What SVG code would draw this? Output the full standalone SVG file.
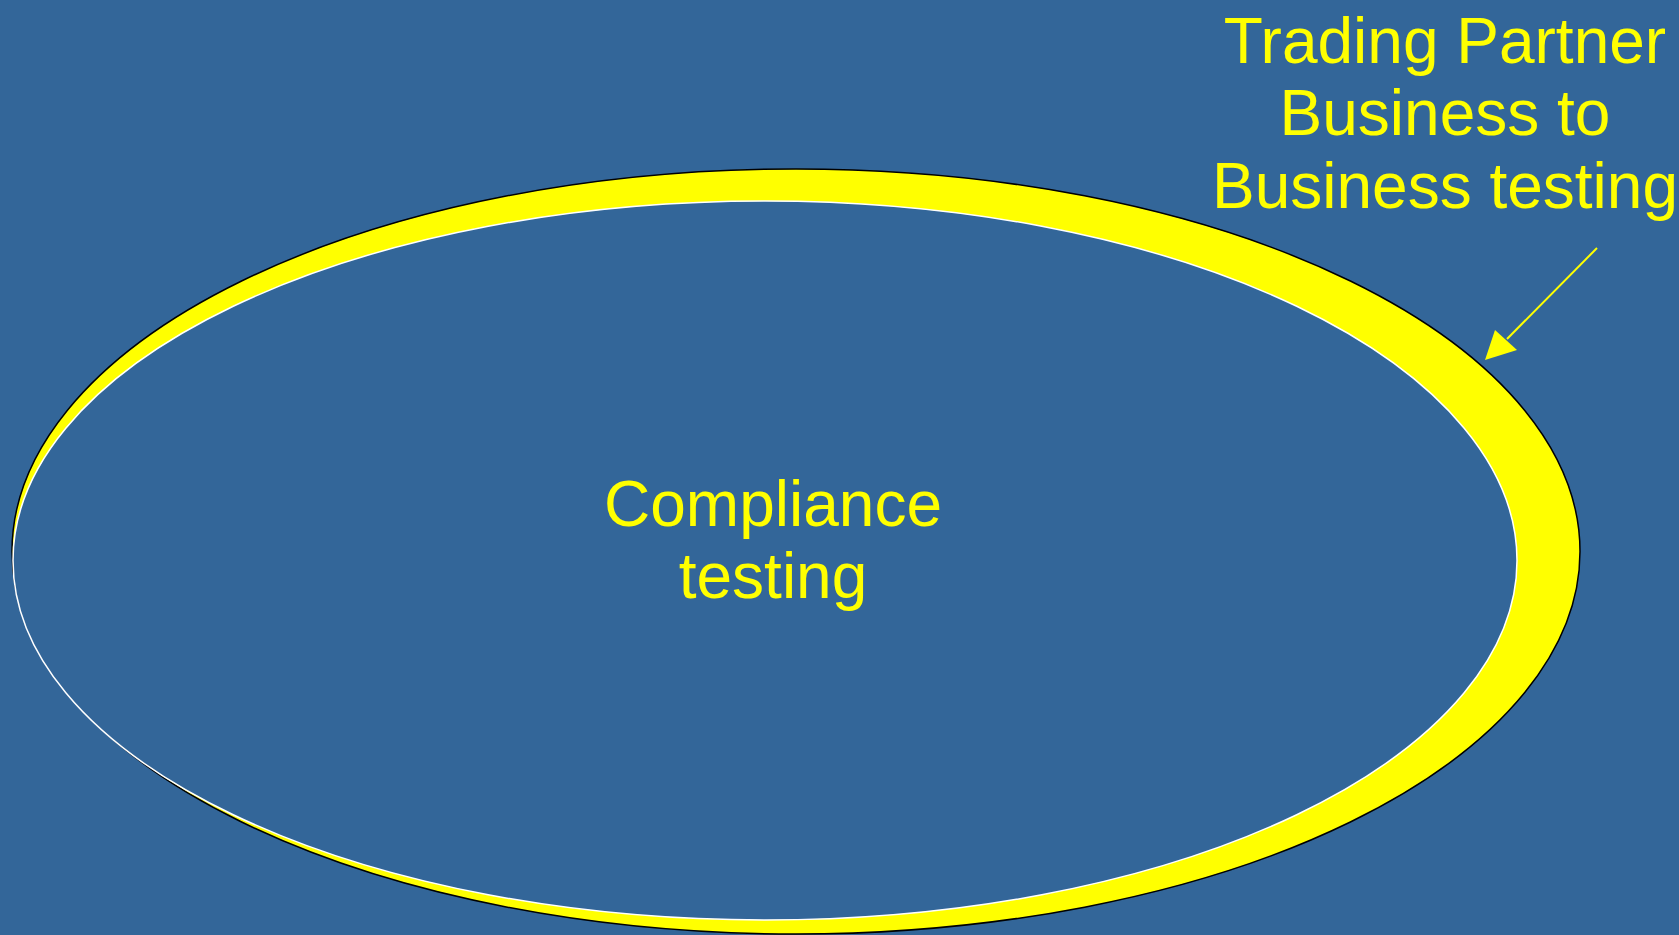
<svg xmlns="http://www.w3.org/2000/svg" width="1679" height="935" viewBox="0 0 1679 935">
  <style>
    .label { font-family: "Liberation Sans", Arial, sans-serif; font-size: 64px; fill: #ffff00; text-anchor: middle; }
  </style>
  <defs>
    <marker id="arrowhead" viewBox="0 0 10 10" refX="10" refY="5" markerWidth="8" markerHeight="8" markerUnits="userSpaceOnUse" orient="auto">
      <path d="M0,0 L10,5 L0,10 z" fill="#ffff00"/>
    </marker>
  </defs>

  <!-- background -->
  <rect width="1679" height="935" fill="#336699"/>

  <!-- outer band: business-to-business testing -->
  <g id="b2b-ring">
    <ellipse cx="796" cy="551.5" rx="784" ry="382.5" fill="#ffff00" stroke="#000000" stroke-width="1.5"/>
  </g>

  <!-- inner region: compliance testing -->
  <g id="compliance">
    <ellipse cx="765" cy="560.5" rx="752" ry="359.5" fill="#336699" stroke="#ffffff" stroke-width="1.5"/>
    <text class="label" x="773" y="526">Compliance</text>
    <text class="label" x="773" y="598">testing</text>
  </g>

  <!-- callout label -->
  <g id="b2b-label">
    <text class="label" x="1445" y="63">Trading Partner</text>
    <text class="label" x="1445" y="135">Business to</text>
    <text class="label" x="1445" y="208">Business testing</text>
  </g>

  <!-- connectors -->
  <g id="connectors">
    <line x1="1597" y1="248" x2="1507" y2="339" stroke="#ffff00" stroke-width="2"/>
    <polygon points="1485,360 1495,330 1517,350" fill="#ffff00"/>
  </g>
</svg>
